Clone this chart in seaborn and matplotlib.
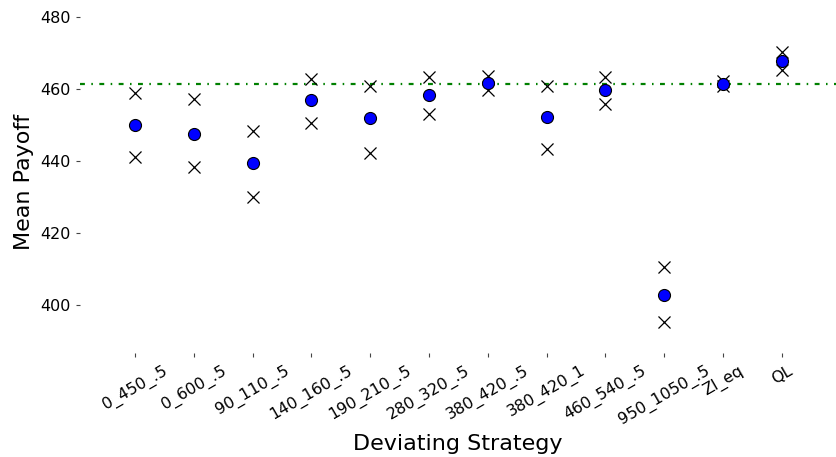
import matplotlib
matplotlib.use("Agg")
import matplotlib.pyplot as plt
import seaborn as sns
import pandas as pd

strategies = ["0_450_.5", "0_600_.5", "90_110_.5", "140_160_.5", "190_210_.5",
              "280_320_.5", "380_420_.5", "380_420_1", "460_540_.5",
              "950_1050_.5", "ZI_eq", "QL"]
mean_payoff = [450.0, 447.6, 439.3, 456.8, 451.8, 458.2, 461.6, 452.1, 459.7,
               402.9, 461.4, 467.7]
upper_bound = [458.8, 457.1, 448.4, 462.8, 460.9, 463.3, 463.6, 460.9, 463.3,
               410.5, 462.2, 470.3]
lower_bound = [441.2, 438.3, 430.0, 450.6, 442.3, 452.9, 459.6, 443.2, 455.9,
               395.2, 460.8, 465.3]
baseline = 461.4

sns.set_style("white", {"text.color": "black", "axes.labelcolor": "black",
                        "xtick.color": "black", "ytick.color": "black"})
plt.rcParams["font.family"] = ["DejaVu Sans"]

df = pd.DataFrame({"strategy": strategies, "mean": mean_payoff,
                   "upper": upper_bound, "lower": lower_bound})

fig = plt.figure(figsize=(8.36, 4.57), dpi=100)
ax = fig.add_axes([80 / 836, 1 - 353 / 457, 756 / 836, 343 / 457])

for col in ["upper", "lower"]:
    sns.scatterplot(data=df, x="strategy", y=col, marker="x", s=75,
                    color="black", linewidth=0.9, ax=ax, zorder=3)
sns.scatterplot(data=df, x="strategy", y="mean", marker="o", s=75,
                color="blue", edgecolor="black", linewidth=0.8, ax=ax, zorder=4)

ax.axhline(baseline, color="green", lw=1.6, dashes=(2.2, 2.9, 0.7, 2.9), zorder=2)

ax.set_xlim(-0.935, 11.92)
ax.set_ylim(386.7, 481.9)
ax.set_yticks([400, 420, 440, 460, 480])
ax.set_xticks(range(len(strategies)))
ax.set_xticklabels(strategies, rotation=30, ha="center")

for s in ax.spines.values():
    s.set_visible(False)
ax.tick_params(axis="both", which="major", direction="out", length=3,
               width=0.8, color="#444444", labelcolor="black",
               labelsize=11.5, pad=4)
ax.tick_params(axis="both", bottom=True, left=True)

ax.set_xlabel("Deviating Strategy", fontsize=16, color="black")
ax.set_ylabel("Mean Payoff", fontsize=16, color="black")

fig.savefig("out.png", dpi=100)
